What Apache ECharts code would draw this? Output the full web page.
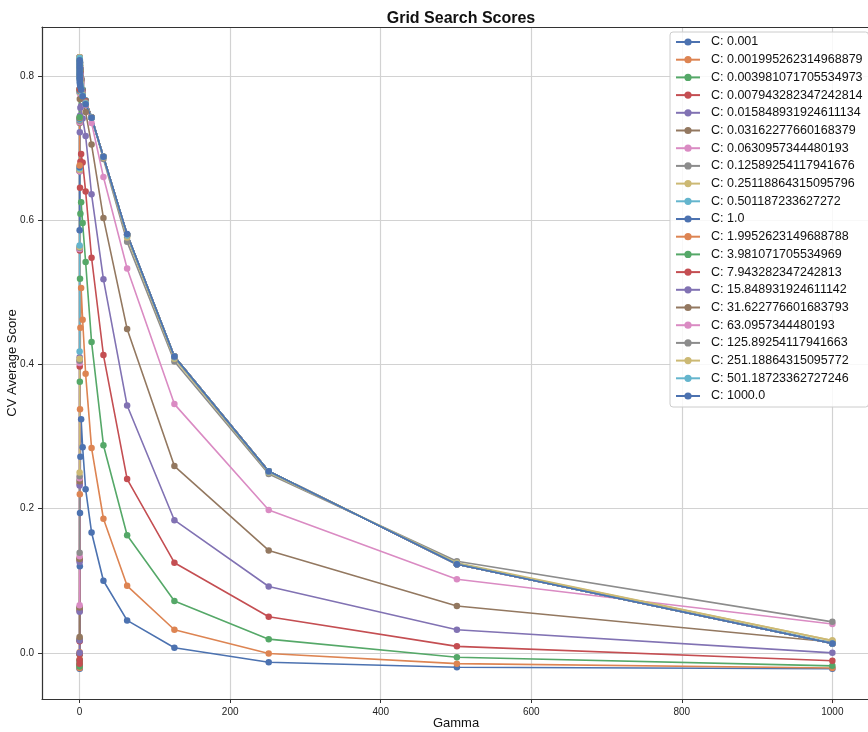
<!DOCTYPE html>
<html>
<head>
<meta charset="utf-8">
<title>Grid Search Scores</title>
<script src="https://cdn.jsdelivr.net/npm/echarts@6/dist/echarts.min.js"></script>
<style>
  html, body { margin: 0; padding: 0; background: #fff; }
  #chart { width: 868px; height: 732px; }
</style>
</head>
<body>
<div id="chart"></div>
<script>
// gamma grid (x values)
const gammas = [0.001, 0.001995, 0.003981, 0.007943, 0.015849, 0.031623, 0.063096,
  0.125893, 0.251189, 0.501187, 1.0, 1.995262, 3.981072, 7.943282, 15.848932,
  31.622777, 63.095734, 125.892541, 251.188643, 501.187234, 1000.0];

// C values as printed in the legend
const cLabels = ['0.001', '0.001995262314968879', '0.003981071705534973',
  '0.007943282347242814', '0.015848931924611134', '0.03162277660168379',
  '0.0630957344480193', '0.12589254117941676', '0.25118864315095796',
  '0.501187233627272', '1.0', '1.9952623149688788', '3.981071705534969',
  '7.943282347242813', '15.848931924611142', '31.622776601683793',
  '63.0957344480193', '125.89254117941663', '251.18864315095772',
  '501.18723362727246', '1000.0'];

// CV average score, one row per C, one value per gamma
const scores = [
  [-0.022, -0.021, -0.019, -0.016, -0.011, -0.002, 0.018, 0.063, 0.120, 0.194, 0.272, 0.324, 0.285, 0.227, 0.167, 0.100, 0.045, 0.007, -0.013, -0.020, -0.022],
  [-0.021, -0.019, -0.015, -0.009, 0.001, 0.020, 0.062, 0.131, 0.220, 0.338, 0.451, 0.506, 0.462, 0.387, 0.284, 0.186, 0.093, 0.032, -0.001, -0.015, -0.021],
  [-0.019, -0.016, -0.011, -0.002, 0.018, 0.060, 0.131, 0.240, 0.376, 0.519, 0.609, 0.625, 0.596, 0.542, 0.431, 0.288, 0.163, 0.072, 0.019, -0.006, -0.018],
  [-0.015, -0.010, -0.002, 0.016, 0.058, 0.128, 0.235, 0.397, 0.558, 0.645, 0.681, 0.692, 0.680, 0.640, 0.548, 0.413, 0.241, 0.125, 0.050, 0.009, -0.011],
  [0.000, 0.017, 0.057, 0.126, 0.232, 0.410, 0.560, 0.668, 0.722, 0.745, 0.756, 0.758, 0.741, 0.717, 0.636, 0.518, 0.343, 0.184, 0.092, 0.032, 0.000],
  [0.022, 0.063, 0.130, 0.238, 0.405, 0.562, 0.668, 0.735, 0.768, 0.780, 0.782, 0.778, 0.768, 0.750, 0.705, 0.603, 0.449, 0.259, 0.142, 0.065, 0.015],
  [0.066, 0.134, 0.242, 0.402, 0.560, 0.668, 0.736, 0.776, 0.795, 0.800, 0.798, 0.790, 0.778, 0.760, 0.735, 0.660, 0.533, 0.345, 0.198, 0.102, 0.040],
  [0.139, 0.245, 0.405, 0.562, 0.670, 0.738, 0.778, 0.798, 0.808, 0.810, 0.805, 0.795, 0.780, 0.765, 0.742, 0.685, 0.570, 0.404, 0.248, 0.127, 0.043],
  [0.250, 0.408, 0.563, 0.670, 0.740, 0.778, 0.798, 0.810, 0.816, 0.815, 0.808, 0.796, 0.781, 0.766, 0.743, 0.687, 0.576, 0.408, 0.250, 0.125, 0.017],
  [0.418, 0.565, 0.672, 0.740, 0.779, 0.799, 0.811, 0.818, 0.821, 0.818, 0.810, 0.797, 0.781, 0.766, 0.743, 0.688, 0.579, 0.410, 0.251, 0.124, 0.014],
  [0.586, 0.674, 0.741, 0.780, 0.800, 0.812, 0.819, 0.822, 0.823, 0.819, 0.810, 0.797, 0.781, 0.766, 0.743, 0.688, 0.580, 0.411, 0.252, 0.123, 0.013],
  [0.676, 0.742, 0.781, 0.801, 0.812, 0.820, 0.823, 0.824, 0.822, 0.818, 0.809, 0.796, 0.780, 0.765, 0.743, 0.688, 0.580, 0.411, 0.252, 0.123, 0.013],
  [0.743, 0.782, 0.802, 0.813, 0.820, 0.824, 0.825, 0.823, 0.820, 0.815, 0.807, 0.795, 0.780, 0.765, 0.742, 0.688, 0.580, 0.411, 0.252, 0.123, 0.013],
  [0.782, 0.802, 0.813, 0.820, 0.824, 0.826, 0.824, 0.821, 0.818, 0.813, 0.805, 0.794, 0.779, 0.765, 0.742, 0.688, 0.580, 0.411, 0.252, 0.123, 0.013],
  [0.802, 0.813, 0.820, 0.824, 0.826, 0.825, 0.822, 0.819, 0.815, 0.810, 0.803, 0.793, 0.778, 0.764, 0.742, 0.688, 0.580, 0.411, 0.252, 0.123, 0.013],
  [0.813, 0.820, 0.824, 0.826, 0.825, 0.823, 0.820, 0.816, 0.812, 0.807, 0.800, 0.791, 0.777, 0.764, 0.742, 0.688, 0.580, 0.411, 0.252, 0.123, 0.013],
  [0.820, 0.824, 0.826, 0.825, 0.823, 0.820, 0.816, 0.812, 0.808, 0.803, 0.797, 0.789, 0.776, 0.763, 0.742, 0.688, 0.580, 0.411, 0.252, 0.123, 0.013],
  [0.824, 0.826, 0.825, 0.822, 0.819, 0.815, 0.811, 0.807, 0.803, 0.799, 0.794, 0.787, 0.775, 0.763, 0.742, 0.688, 0.580, 0.411, 0.252, 0.123, 0.013],
  [0.826, 0.825, 0.822, 0.818, 0.814, 0.810, 0.806, 0.802, 0.799, 0.795, 0.791, 0.785, 0.774, 0.762, 0.742, 0.688, 0.580, 0.411, 0.252, 0.124, 0.017],
  [0.825, 0.822, 0.818, 0.814, 0.810, 0.806, 0.802, 0.798, 0.795, 0.791, 0.788, 0.783, 0.773, 0.762, 0.742, 0.688, 0.580, 0.411, 0.252, 0.123, 0.013],
  [0.822, 0.818, 0.814, 0.810, 0.806, 0.802, 0.798, 0.795, 0.791, 0.788, 0.785, 0.781, 0.772, 0.761, 0.742, 0.688, 0.581, 0.411, 0.252, 0.123, 0.013]
];

// seaborn "deep" colour cycle
const palette = ['#4C72B0', '#DD8452', '#55A868', '#C44E52', '#8172B3',
  '#937860', '#DA8BC3', '#8C8C8C', '#CCB974', '#64B5CD'];

const fontName = '"Liberation Sans", Arial, Helvetica, sans-serif';

let myChart = echarts.init(document.getElementById('chart'), null, { renderer: 'canvas' });

let series = [];
for (var i = 0; i < cLabels.length; i++) {
  let pts = [];
  for (var j = 0; j < gammas.length; j++) {
    pts.push([gammas[j], scores[i][j]]);
  }
  series.push({
    name: 'C: ' + cLabels[i],
    type: 'line',
    data: pts,
    color: palette[i % palette.length],
    symbol: 'circle',
    symbolSize: 6.5,
    showSymbol: true,
    lineStyle: { width: 1.6 },
    itemStyle: { borderWidth: 0 },
    emphasis: { disabled: true },
    z: 2
  });
}

let axisCommon = {
  axisLine: { show: true, onZero: false, lineStyle: { color: '#333', width: 1.2 } },
  axisTick: { show: true, length: 4, lineStyle: { color: '#333', width: 1 } },
  axisLabel: { color: '#222', fontSize: 10, fontFamily: fontName, showMinLabel: false, showMaxLabel: false },
  splitLine: { show: true, lineStyle: { color: '#d2d2d2', width: 1.2 } },
  nameMoveOverlap: false,
  nameTextStyle: { color: '#111', fontSize: 13, fontFamily: fontName }
};

let option = {
  animation: false,
  backgroundColor: '#fff',
  title: {
    text: 'Grid Search Scores',
    left: 456,
    top: 6,
    textAlign: 'center',
    textStyle: { fontSize: 16, fontWeight: 'bold', color: '#111', fontFamily: fontName }
  },
  grid: { left: 42, top: 27, width: 828, height: 672, containLabel: false, outerBoundsMode: 'none' },
  legend: {
    orient: 'vertical',
    left: 670,
    top: 32,
    itemWidth: 24,
    itemHeight: 9,
    itemGap: 3.7,
    padding: [3, 6, 4, 5],
    backgroundColor: 'rgba(255,255,255,0.85)',
    borderColor: '#cccccc',
    borderWidth: 1,
    borderRadius: 3,
    textStyle: { fontSize: 12.5, lineHeight: 14, color: '#111', fontFamily: fontName, padding: [0, 0, 0, 6] },
    data: series.map(function (s) { return s.name; })
  },
  xAxis: [
    Object.assign({}, axisCommon, {
      type: 'value',
      min: -50,
      max: 1050,
      splitNumber: 5,
      minInterval: 200,
      maxInterval: 200,
      name: 'Gamma',
      nameLocation: 'middle',
      nameGap: 18,
      axisLabel: Object.assign({}, axisCommon.axisLabel, {
        formatter: function (v) { return String(Math.round(v)); }
      })
    }),
    {
      type: 'value',
      position: 'top',
      min: -50,
      max: 1050,
      axisLine: { show: true, onZero: false, lineStyle: { color: '#333', width: 1.2 } },
      axisTick: { show: false },
      axisLabel: { show: false },
      splitLine: { show: false }
    }
  ],
  yAxis: Object.assign({}, axisCommon, {
    type: 'value',
    min: -0.064,
    max: 0.868,
    splitNumber: 5,
    minInterval: 0.2,
    maxInterval: 0.2,
    name: 'CV Average Score',
    nameLocation: 'middle',
    nameGap: 23,
    axisLabel: Object.assign({}, axisCommon.axisLabel, {
      formatter: function (v) { return v.toFixed(1); }
    })
  }),
  series: series
};

myChart.setOption(option);
window.addEventListener('resize', function () { myChart.resize(); });
</script>
</body>
</html>
